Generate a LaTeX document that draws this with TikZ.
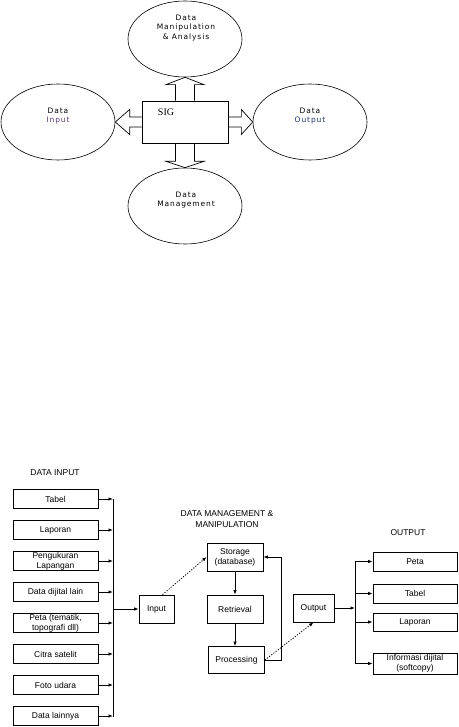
\documentclass[tikz,border=0pt]{standalone}
\usepackage{fontspec}
\setmainfont{Liberation Sans}
\newfontfamily\sigfont{Liberation Serif}
\newfontfamily\topfont[LetterSpace=12]{DejaVu Sans}
\usetikzlibrary{shapes.geometric,arrows.meta}

\definecolor{inputcol}{rgb}{0.33,0.22,0.45}
\definecolor{outputcol}{rgb}{0.12,0.18,0.42}

\tikzset{
	lbl/.style={font=\topfont\fontsize{7.5}{9.5}\selectfont, align=center, inner sep=0pt},
	title/.style={font=\fontsize{8.5}{11}\selectfont, align=center, inner sep=0pt},
	oval/.style={draw, ellipse, line width=0.6pt, minimum width=114pt, minimum height=76pt, inner sep=0pt},
	hollow/.style={draw, line width=0.7pt, line join=miter},
	flowbox/.style={draw, line width=0.8pt, align=center, font=\fontsize{8.5}{10}\selectfont, inner sep=0pt},
	inbox/.style={flowbox, minimum width=85pt, minimum height=19pt},
	outbox/.style={flowbox, minimum width=84pt, minimum height=19pt},
	arr/.style={line width=0.8pt, -{Latex[length=4.5pt,width=3.5pt]}},
	dasharr/.style={arr, dash pattern=on 1.2pt off 1.5pt}
}

\begin{document}
\begin{tikzpicture}[x=1pt, y=-1pt]
		\useasboundingbox (0,0) rectangle (458,727);
		
		% SIG and its four parts
		\node[draw, line width=0.7pt, minimum width=86pt, minimum height=42pt] (sig) at (185,122) {};
		\node[font=\sigfont\fontsize{10}{12}\selectfont, inner sep=0pt] (siglbl) at (166,112) {SIG};
		
		\node[oval] (manip) at (185,39) {};
		\node[oval] (datain) at (58,122) {};
		\node[oval] (dataout) at (310,122) {};
		\node[oval] (mgmt) at (185,206) {};
		
		\node[lbl] (maniptxt) at (186,28) {Data\\Manipulation\\\& Analysis};
		\node[lbl] (datain txt) at (58,116) {Data\\\textcolor{inputcol}{Input}};
		\node[lbl] (dataout txt) at (310,116) {Data\\\textcolor{outputcol}{Output}};
		\node[lbl] (mgmttxt) at (186,200) {Data\\Management};
		
		\draw[hollow] ([xshift=-9.5pt]sig.north) -- ++(0pt,16pt) -- ++(-9.5pt,0pt) -- (manip.south)
			-- ([xshift=19pt,yshift=16pt]sig.north) -- ++(-9.5pt,0pt) -- ++(0pt,-16pt);
		\draw[hollow] ([xshift=-9.5pt]sig.south) -- ++(0pt,-18pt) -- ++(-9.5pt,0pt) -- (mgmt.north)
			-- ([xshift=19pt,yshift=-18pt]sig.south) -- ++(-9.5pt,0pt) -- ++(0pt,18pt);
		\draw[hollow] ([yshift=5pt]sig.west) -- ++(-12pt,0pt) -- ++(0pt,7.5pt) -- (datain.east)
			-- ([xshift=-12pt,yshift=-12.5pt]sig.west) -- ++(0pt,7.5pt) -- ++(12pt,0pt);
		\draw[hollow] ([yshift=5pt]sig.east) -- ++(13pt,0pt) -- ++(0pt,7.5pt) -- (dataout.west)
			-- ([xshift=13pt,yshift=-12.5pt]sig.east) -- ++(0pt,7.5pt) -- ++(-13pt,0pt);
		
		% data input
		\node[title] (intitle) at (55,473) {DATA INPUT};
		\foreach \name [count=\i] in {Tabel, Laporan, {Pengukuran\\Lapangan}, Data dijital lain,
			{Peta (tematik,\\topografi dll)}, Citra satelit, Foto udara, Data lainnya}
			\node[inbox] (in\i) at (55.5,{499+31*(\i-1)}) {\name};
		
		\coordinate (inbustop) at (113,499);
		\coordinate (inbusbot) at (113,717);
		\draw[line width=0.8pt] (inbustop) -- (inbusbot);
		\foreach \i in {1,...,8}
			\draw[arr] (in\i.east) -- (in\i.east -| inbustop);
		
		% data management & manipulation
		\node[title] (mgmttitle) at (227,519.5) {DATA MANAGEMENT \&\\MANIPULATION};
		\node[flowbox, minimum width=35pt, minimum height=28pt] (input) at (156.5,609) {Input};
		\node[flowbox, minimum width=56pt, minimum height=28pt] (storage) at (235,557) {Storage\\(database)};
		\node[flowbox, minimum width=56pt, minimum height=28pt] (retrieval) at (235,609) {Retrieval};
		\node[flowbox, minimum width=56pt, minimum height=27pt] (processing) at (236.5,660) {Processing};
		\node[flowbox, minimum width=41pt, minimum height=28pt] (output) at (313.5,608) {Output};
		
		\draw[arr] (input.west -| inbustop) -- (input.west);
		\draw[dasharr] ([xshift=6pt]input.north) -- (storage.west);
		\draw[arr] (storage.south -| retrieval.north) -- (retrieval.north);
		\draw[arr] (retrieval.south) -- (retrieval.south |- processing.north);
		\draw[dasharr] (processing.east) -- (output.south);
		\coordinate (loopx) at (281,0);
		\draw[arr] (processing.east) -- (processing.east -| loopx) -- (storage.east -| loopx) -- (storage.east);
		
		% output
		\node[title] (outtitle) at (408,533) {OUTPUT};
		\node[outbox] (out1) at (415,561.5) {Peta};
		\node[outbox] (out2) at (415,593.5) {Tabel};
		\node[outbox, minimum height=18pt] (out3) at (415,622) {Laporan};
		\node[outbox, minimum height=21pt] (out4) at (415,663.5) {Informasi dijital\\(softcopy)};
		
		\coordinate (outbustop) at (355,561.5);
		\coordinate (outbusbot) at (355,663.5);
		\draw[line width=0.8pt] (outbustop) -- (outbusbot);
		\draw[arr] (output.east) -- (output.east -| outbustop);
		\foreach \i in {1,...,4}
			\draw[arr] (out\i.west -| outbustop) -- (out\i.west);
		\end{tikzpicture}
\end{document}
